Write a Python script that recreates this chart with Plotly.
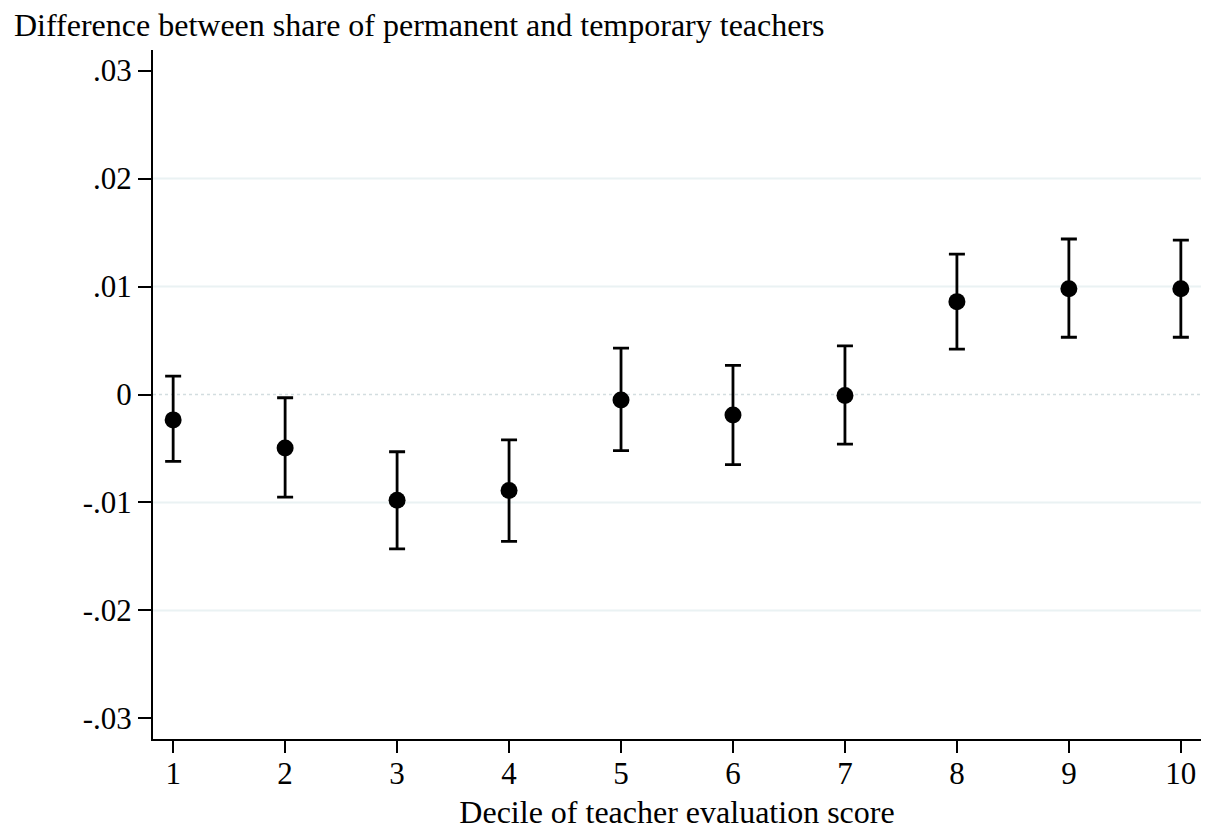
import plotly.graph_objects as go

deciles = [1, 2, 3, 4, 5, 6, 7, 8, 9, 10]
estimate = [-0.00235, -0.00495, -0.0098, -0.0089, -0.0005, -0.0019, -0.0001, 0.0086, 0.0098, 0.0098]
ci_upper = [0.0017, -0.0003, -0.0053, -0.0042, 0.0043, 0.0027, 0.0045, 0.0130, 0.0144, 0.0143]
ci_lower = [-0.0062, -0.0095, -0.0143, -0.0136, -0.0052, -0.0065, -0.0046, 0.0042, 0.0053, 0.0053]

y_tickvals = [-0.03, -0.02, -0.01, 0, 0.01, 0.02, 0.03]
y_ticktext = ["-.03", "-.02", "-.01", "0", ".01", ".02", ".03"]
grid_vals = [-0.02, -0.01, 0.01, 0.02]

FONT = "Liberation Serif, Times New Roman, serif"
FS = 31
FS_TITLE = 32

err_plus = [u - e for u, e in zip(ci_upper, estimate)]
err_minus = [e - l for e, l in zip(estimate, ci_lower)]

fig = go.Figure()
for v in grid_vals:
    fig.add_hline(y=v, line=dict(color="#eaf2f3", width=2), layer="below")
fig.add_hline(y=0, line=dict(color="#d3dde0", width=1.5, dash="dot"), layer="below")

fig.add_trace(go.Scatter(
    x=deciles, y=estimate, mode="markers",
    marker=dict(color="black", size=17, symbol="circle"),
    error_y=dict(type="data", symmetric=False, array=err_plus, arrayminus=err_minus,
                 color="black", thickness=2.8, width=8),
    showlegend=False,
))

fig.update_layout(
    width=1201, height=822,
    margin=dict(l=145, r=8, t=42, b=91, autoexpand=False),
    plot_bgcolor="white", paper_bgcolor="white",
    font=dict(family=FONT, size=FS, color="black"),
    xaxis=dict(range=[0.82, 10.18], tickvals=deciles, ticktext=[str(d) for d in deciles],
               showgrid=False, zeroline=False, showline=True, linecolor="black", linewidth=2,
               ticks="outside", ticklen=12, tickwidth=2, tickcolor="black",
               ticklabelstandoff=-6, automargin=False,
               title=dict(text="Decile of teacher evaluation score", standoff=11,
                          font=dict(family=FONT, size=FS_TITLE))),
    yaxis=dict(range=[-0.0319, 0.0319], tickvals=y_tickvals, ticktext=y_ticktext,
               showgrid=False, zeroline=False, showline=True, linecolor="black", linewidth=2,
               ticks="outside", ticklen=13, tickwidth=2, tickcolor="black", automargin=False),
    annotations=[dict(text="Difference between share of permanent and temporary teachers",
                      xref="paper", yref="paper", x=(4 - 145) / 1048, y=1,
                      xanchor="left", yanchor="bottom", yshift=5, showarrow=False,
                      font=dict(family=FONT, size=FS_TITLE))],
)

fig.write_html("out.html")
